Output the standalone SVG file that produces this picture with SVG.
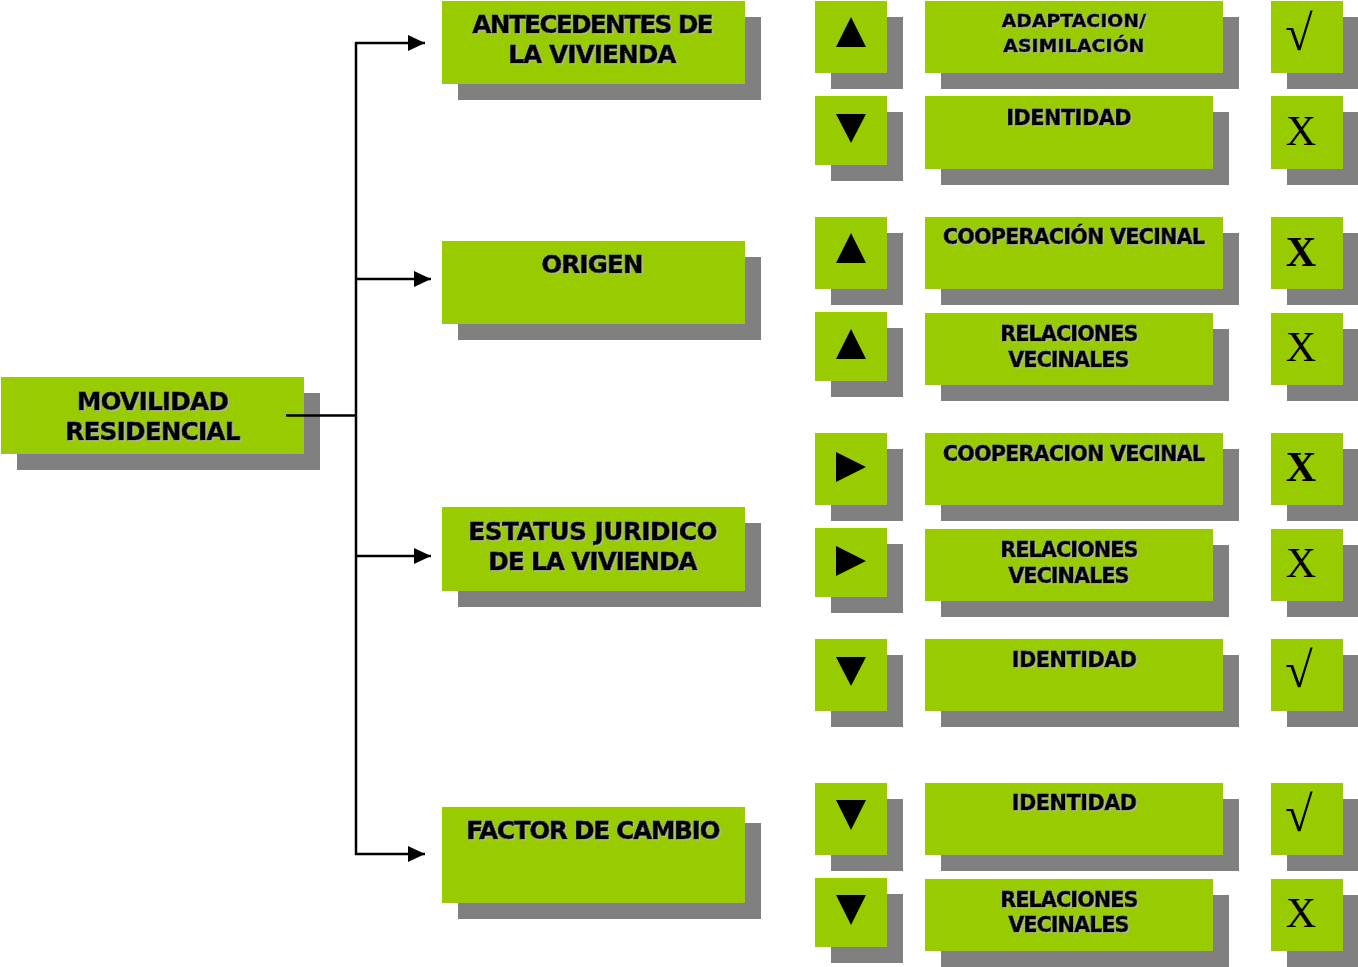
<svg xmlns="http://www.w3.org/2000/svg" width="1358" height="967" viewBox="0 0 1358 967">
<style>
.g{fill:#99cc00}
.s{fill:#808080}
.t{font-family:"DejaVu Sans","Verdana",sans-serif;font-weight:bold;fill:#000;stroke:#000;stroke-width:0.7;text-anchor:middle;filter:url(#ts)}
.t24{font-size:24.5px}
.t20{font-size:20.5px}
.t18{font-size:18.5px}
.sym{fill:#000}
.x{font-family:"Liberation Serif","Times New Roman",serif;font-size:42px;fill:#000;text-anchor:middle}
.xb{font-weight:bold}
.ck{font-family:"Liberation Serif","DejaVu Serif",serif;font-size:50px;fill:#000;text-anchor:middle}
.ln{fill:none;stroke:#000;stroke-width:2.5}
</style>
<defs>
<filter id="ts" x="-5%" y="-30%" width="110%" height="160%">
<feDropShadow dx="1.2" dy="1.2" stdDeviation="0" flood-color="#b4b4b4" flood-opacity="1"/>
</filter>
<marker id="ah" markerUnits="userSpaceOnUse" markerWidth="17" markerHeight="16" refX="17" refY="8" orient="auto">
<path d="M0,0 L17,8 L0,16 z" fill="#000"/>
</marker>
</defs>

<g id="movilidad">
<rect class="s" x="17" y="393" width="303" height="77"/>
<rect class="g" x="1" y="377" width="303" height="77"/>
<text class="t t24" x="153" y="410" textLength="152">MOVILIDAD</text>
<text class="t t24" x="153" y="440" textLength="175">RESIDENCIAL</text>
</g>

<g id="antecedentes">
<rect class="s" x="458" y="17" width="303" height="83"/>
<rect class="g" x="442" y="1" width="303" height="83"/>
<text class="t t24" x="593" y="33" textLength="241">ANTECEDENTES DE</text>
<text class="t t24" x="592.5" y="63" textLength="168">LA VIVIENDA</text>
</g>

<g id="origen">
<rect class="s" x="458" y="257" width="303" height="83"/>
<rect class="g" x="442" y="241" width="303" height="83"/>
<text class="t t24" x="592.5" y="273" textLength="102">ORIGEN</text>
</g>

<g id="estatus">
<rect class="s" x="458" y="523" width="303" height="84"/>
<rect class="g" x="442" y="507" width="303" height="84"/>
<text class="t t24" x="593" y="540" textLength="249">ESTATUS JURIDICO</text>
<text class="t t24" x="593" y="570" textLength="209">DE LA VIVIENDA</text>
</g>

<g id="factor">
<rect class="s" x="458" y="823" width="303" height="96"/>
<rect class="g" x="442" y="807" width="303" height="96"/>
<text class="t t24" x="593.5" y="839" textLength="254">FACTOR DE CAMBIO</text>
</g>

<!-- Row 1 -->
<g id="r1-dir">
<rect class="s" x="831" y="17" width="72" height="72"/>
<rect class="g" x="815" y="1" width="72" height="72"/>
<polygon class="sym" points="836,47 866,47 851,17"/>
</g>
<g id="r1-label">
<rect class="s" x="941" y="17" width="298" height="72"/>
<rect class="g" x="925" y="1" width="298" height="72"/>
<text class="t t18" x="1074" y="27" textLength="144">ADAPTACION/</text>
<text class="t t18" x="1074" y="52" textLength="141">ASIMILACIÓN</text>
</g>
<g id="r1-mark">
<rect class="s" x="1287" y="17" width="72" height="72"/>
<rect class="g" x="1271" y="1" width="72" height="72"/>
<text class="ck" x="1299" y="50">√</text>
</g>

<!-- Row 2 -->
<g id="r2-dir">
<rect class="s" x="831" y="112" width="72" height="69"/>
<rect class="g" x="815" y="96" width="72" height="69"/>
<polygon class="sym" points="836,114 866,114 851,143"/>
</g>
<g id="r2-label">
<rect class="s" x="941" y="112" width="288" height="73"/>
<rect class="g" x="925" y="96" width="288" height="73"/>
<text class="t t20" x="1069" y="125" textLength="125">IDENTIDAD</text>
</g>
<g id="r2-mark">
<rect class="s" x="1287" y="112" width="72" height="73"/>
<rect class="g" x="1271" y="96" width="72" height="73"/>
<text class="x" x="1301" y="145">X</text>
</g>

<!-- Row 3 -->
<g id="r3-dir">
<rect class="s" x="831" y="233" width="72" height="72"/>
<rect class="g" x="815" y="217" width="72" height="72"/>
<polygon class="sym" points="836,263 866,263 851,233"/>
</g>
<g id="r3-label">
<rect class="s" x="941" y="233" width="298" height="72"/>
<rect class="g" x="925" y="217" width="298" height="72"/>
<text class="t t20" x="1074" y="244" textLength="262">COOPERACIÓN VECINAL</text>
</g>
<g id="r3-mark">
<rect class="s" x="1287" y="233" width="72" height="72"/>
<rect class="g" x="1271" y="217" width="72" height="72"/>
<text class="x xb" x="1301" y="266">X</text>
</g>

<!-- Row 4 -->
<g id="r4-dir">
<rect class="s" x="831" y="328" width="72" height="69"/>
<rect class="g" x="815" y="312" width="72" height="69"/>
<polygon class="sym" points="836,359 866,359 851,329"/>
</g>
<g id="r4-label">
<rect class="s" x="941" y="329" width="288" height="72"/>
<rect class="g" x="925" y="313" width="288" height="72"/>
<text class="t t20" x="1069.5" y="341" textLength="138">RELACIONES</text>
<text class="t t20" x="1069" y="367" textLength="121">VECINALES</text>
</g>
<g id="r4-mark">
<rect class="s" x="1287" y="329" width="72" height="72"/>
<rect class="g" x="1271" y="313" width="72" height="72"/>
<text class="x" x="1301" y="361">X</text>
</g>

<!-- Row 5 -->
<g id="r5-dir">
<rect class="s" x="831" y="449" width="72" height="72"/>
<rect class="g" x="815" y="433" width="72" height="72"/>
<polygon class="sym" points="836,452 866,467 836,482"/>
</g>
<g id="r5-label">
<rect class="s" x="941" y="449" width="298" height="72"/>
<rect class="g" x="925" y="433" width="298" height="72"/>
<text class="t t20" x="1074" y="461" textLength="262">COOPERACION VECINAL</text>
</g>
<g id="r5-mark">
<rect class="s" x="1287" y="449" width="72" height="72"/>
<rect class="g" x="1271" y="433" width="72" height="72"/>
<text class="x xb" x="1301" y="481">X</text>
</g>

<!-- Row 6 -->
<g id="r6-dir">
<rect class="s" x="831" y="544" width="72" height="69"/>
<rect class="g" x="815" y="528" width="72" height="69"/>
<polygon class="sym" points="836,546 866,561 836,576"/>
</g>
<g id="r6-label">
<rect class="s" x="941" y="545" width="288" height="72"/>
<rect class="g" x="925" y="529" width="288" height="72"/>
<text class="t t20" x="1069.5" y="557" textLength="138">RELACIONES</text>
<text class="t t20" x="1069" y="583" textLength="121">VECINALES</text>
</g>
<g id="r6-mark">
<rect class="s" x="1287" y="545" width="72" height="72"/>
<rect class="g" x="1271" y="529" width="72" height="72"/>
<text class="x" x="1301" y="577">X</text>
</g>

<!-- Row 7 -->
<g id="r7-dir">
<rect class="s" x="831" y="655" width="72" height="72"/>
<rect class="g" x="815" y="639" width="72" height="72"/>
<polygon class="sym" points="836,657 866,657 851,686"/>
</g>
<g id="r7-label">
<rect class="s" x="941" y="655" width="298" height="72"/>
<rect class="g" x="925" y="639" width="298" height="72"/>
<text class="t t20" x="1074.5" y="667" textLength="125">IDENTIDAD</text>
</g>
<g id="r7-mark">
<rect class="s" x="1287" y="655" width="72" height="72"/>
<rect class="g" x="1271" y="639" width="72" height="72"/>
<text class="ck" x="1299" y="687">√</text>
</g>

<!-- Row 8 -->
<g id="r8-dir">
<rect class="s" x="831" y="799" width="72" height="72"/>
<rect class="g" x="815" y="783" width="72" height="72"/>
<polygon class="sym" points="836,800 866,800 851,830"/>
</g>
<g id="r8-label">
<rect class="s" x="941" y="799" width="298" height="72"/>
<rect class="g" x="925" y="783" width="298" height="72"/>
<text class="t t20" x="1074.5" y="810" textLength="125">IDENTIDAD</text>
</g>
<g id="r8-mark">
<rect class="s" x="1287" y="799" width="72" height="72"/>
<rect class="g" x="1271" y="783" width="72" height="72"/>
<text class="ck" x="1299" y="831">√</text>
</g>

<!-- Row 9 -->
<g id="r9-dir">
<rect class="s" x="831" y="894" width="72" height="69"/>
<rect class="g" x="815" y="878" width="72" height="69"/>
<polygon class="sym" points="836,895 866,895 851,925"/>
</g>
<g id="r9-label">
<rect class="s" x="941" y="895" width="288" height="72"/>
<rect class="g" x="925" y="879" width="288" height="72"/>
<text class="t t20" x="1069.5" y="907" textLength="138">RELACIONES</text>
<text class="t t20" x="1069" y="932" textLength="121">VECINALES</text>
</g>
<g id="r9-mark">
<rect class="s" x="1287" y="895" width="72" height="72"/>
<rect class="g" x="1271" y="879" width="72" height="72"/>
<text class="x" x="1301" y="927">X</text>
</g>

<g id="connectors">
<path class="ln" d="M286,415.5 H356"/>
<path class="ln" d="M356,42 V855"/>
<path class="ln" d="M355,43 H425" marker-end="url(#ah)"/>
<path class="ln" d="M356,279 H431" marker-end="url(#ah)"/>
<path class="ln" d="M356,556 H431" marker-end="url(#ah)"/>
<path class="ln" d="M355,854 H425" marker-end="url(#ah)"/>
</g>
</svg>
